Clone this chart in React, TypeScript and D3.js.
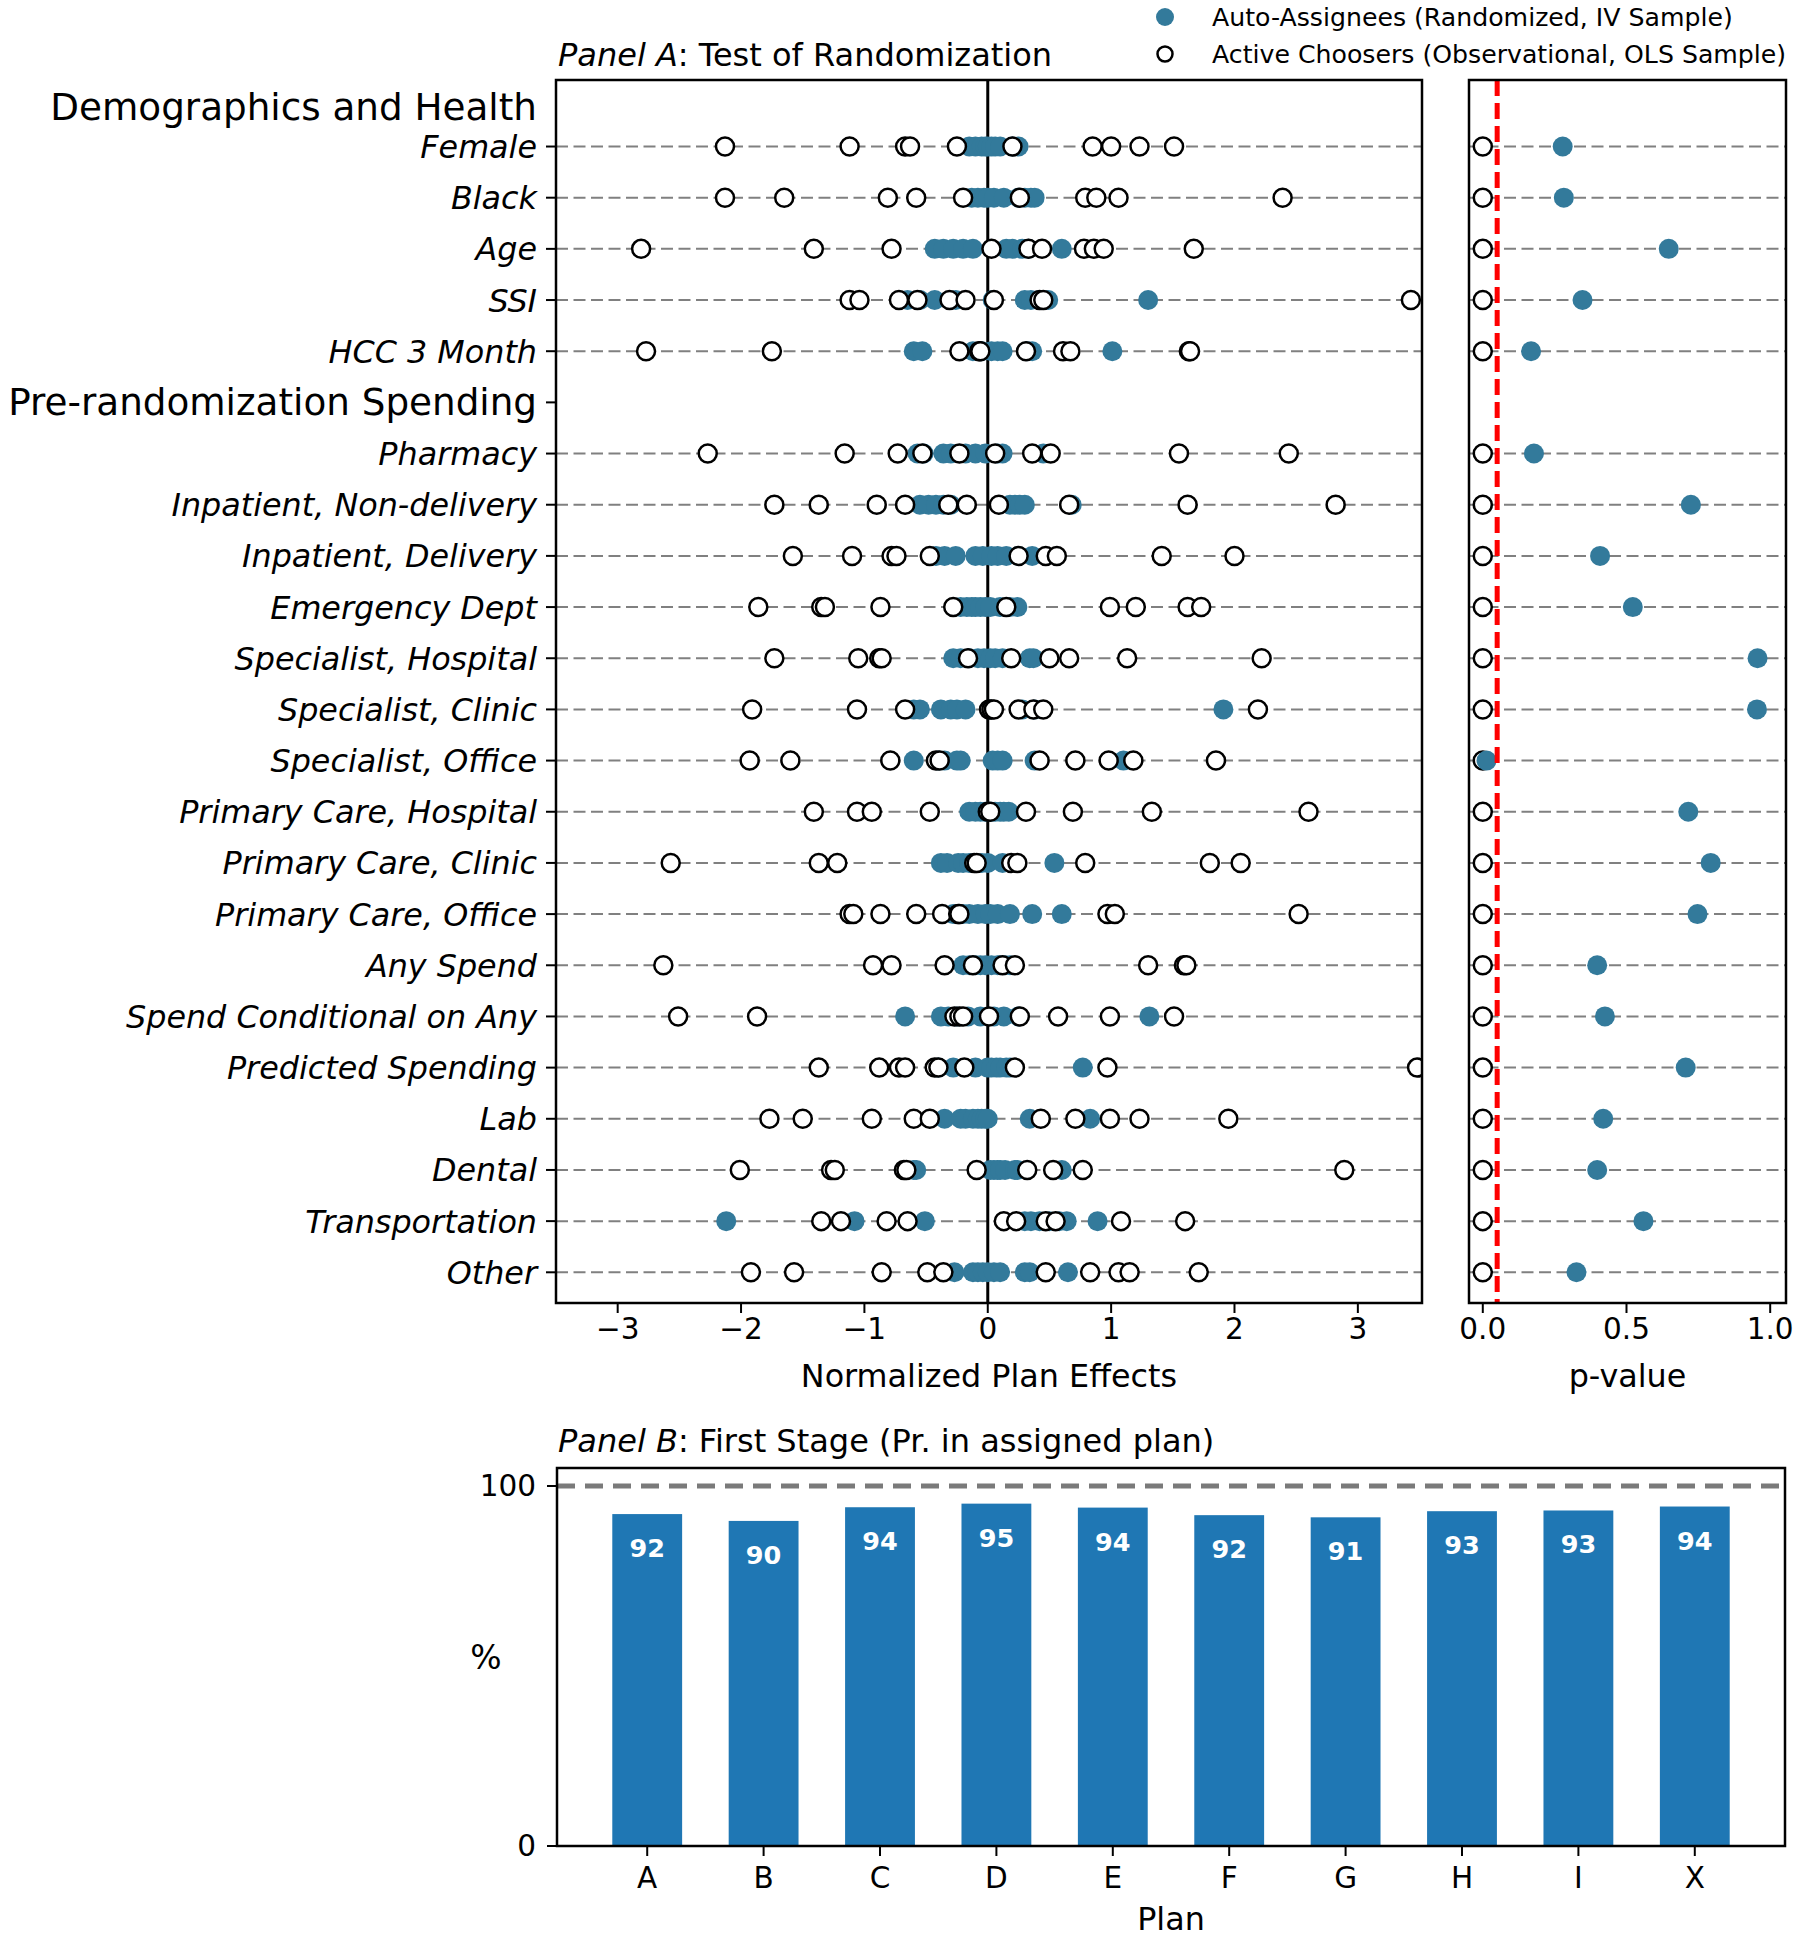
import React from 'react';
import * as d3 from 'd3';

// covariates, in plot order (the spending header sits between HCC and Pharmacy)
const demoVars = ['Female', 'Black', 'Age', 'SSI', 'HCC 3 Month'];
const spendVars = ['Pharmacy', 'Inpatient, Non-delivery', 'Inpatient, Delivery', 'Emergency Dept',
	'Specialist, Hospital', 'Specialist, Clinic', 'Specialist, Office', 'Primary Care, Hospital',
	'Primary Care, Clinic', 'Primary Care, Office', 'Any Spend', 'Spend Conditional on Any',
	'Predicted Spending', 'Lab', 'Dental', 'Transportation', 'Other'];
const variables = [...demoVars, ...spendVars];

// normalized plan effects (one per plan) - auto-assignees
const autoEffects = [
	[-0.15, -0.1, -0.05, -0.02, 0.0, 0.03, 0.06, 0.1, 0.2, 0.25],
	[-0.13, -0.08, -0.03, 0.0, 0.05, 0.13, 0.25, 0.3, 0.35, 0.38],
	[-0.43, -0.36, -0.28, -0.2, -0.12, 0.15, 0.2, 0.28, 0.33, 0.6],
	[-0.65, -0.55, -0.43, -0.26, 0.04, 0.3, 0.35, 0.42, 0.49, 1.3],
	[-0.6, -0.53, -0.12, -0.05, 0.03, 0.08, 0.12, 0.32, 0.36, 1.01],
	[-0.57, -0.52, -0.36, -0.3, -0.18, -0.1, -0.02, 0.08, 0.12, 0.45],
	[-0.55, -0.48, -0.42, -0.36, -0.3, 0.18, 0.22, 0.26, 0.3, 0.68],
	[-0.42, -0.35, -0.26, -0.1, -0.04, 0.03, 0.08, 0.15, 0.25, 0.36],
	[-0.22, -0.17, -0.13, -0.1, -0.06, -0.02, 0.02, 0.1, 0.18, 0.24],
	[-0.28, -0.22, -0.15, -0.08, -0.03, 0.02, 0.06, 0.12, 0.34, 0.37],
	[-0.6, -0.55, -0.38, -0.3, -0.25, -0.18, 0.02, 0.28, 0.38, 1.91],
	[-0.6, -0.4, -0.35, -0.25, -0.22, 0.04, 0.08, 0.12, 0.38, 1.1],
	[-0.15, -0.1, -0.06, -0.02, 0.0, 0.03, 0.06, 0.1, 0.13, 0.17],
	[-0.38, -0.33, -0.24, -0.2, -0.15, -0.1, -0.05, 0.0, 0.12, 0.54],
	[-0.28, -0.2, -0.15, -0.08, -0.02, 0.02, 0.08, 0.18, 0.36, 0.6],
	[-0.2, -0.15, -0.1, -0.06, -0.02, 0.03, 0.08, 0.1, 0.14, 0.18],
	[-0.67, -0.38, -0.32, -0.25, -0.16, -0.06, 0.05, 0.13, 0.25, 1.31],
	[-0.4, -0.28, -0.1, 0.0, 0.03, 0.07, 0.1, 0.15, 0.18, 0.77],
	[-0.35, -0.22, -0.18, -0.12, -0.08, -0.05, -0.02, 0.0, 0.34, 0.83],
	[-0.6, -0.58, 0.02, 0.05, 0.08, 0.1, 0.14, 0.22, 0.24, 0.6],
	[-2.12, -1.08, -0.51, 0.3, 0.35, 0.42, 0.5, 0.58, 0.64, 0.89],
	[-0.27, -0.12, -0.08, -0.04, 0.0, 0.05, 0.1, 0.3, 0.34, 0.65],
];

// active choosers
const chooserEffects = [
	[-2.13, -1.12, -0.67, -0.63, -0.25, 0.2, 0.85, 1.0, 1.23, 1.51],
	[-2.13, -1.65, -0.81, -0.58, -0.2, 0.26, 0.79, 0.88, 1.06, 2.39],
	[-2.81, -1.41, -0.78, 0.03, 0.33, 0.44, 0.78, 0.86, 0.94, 1.67],
	[-1.12, -1.04, -0.72, -0.57, -0.31, -0.18, 0.05, 0.42, 0.45, 3.43],
	[-2.77, -1.75, -0.23, -0.07, -0.06, 0.31, 0.61, 0.67, 1.63, 1.64],
	[-2.27, -1.16, -0.73, -0.53, -0.23, 0.06, 0.36, 0.51, 1.55, 2.44],
	[-1.73, -1.37, -0.9, -0.67, -0.32, -0.17, 0.09, 0.66, 1.62, 2.82],
	[-1.58, -1.1, -0.78, -0.74, -0.47, 0.25, 0.47, 0.56, 1.41, 2.0],
	[-1.86, -1.35, -1.32, -0.87, -0.28, 0.15, 0.99, 1.2, 1.62, 1.73],
	[-1.73, -1.05, -0.88, -0.86, -0.16, 0.19, 0.5, 0.66, 1.13, 2.22],
	[-1.91, -1.06, -0.67, 0.01, 0.03, 0.05, 0.25, 0.37, 0.45, 2.19],
	[-1.93, -1.6, -0.79, -0.42, -0.39, 0.42, 0.71, 0.98, 1.18, 1.85],
	[-1.41, -1.06, -0.94, -0.47, 0.0, 0.02, 0.31, 0.69, 1.33, 2.6],
	[-2.57, -1.37, -1.22, -0.11, -0.09, 0.19, 0.24, 0.79, 1.8, 2.05],
	[-1.12, -1.09, -0.87, -0.58, -0.37, -0.24, -0.23, 0.97, 1.03, 2.52],
	[-2.63, -0.93, -0.78, -0.35, -0.12, 0.12, 0.22, 1.3, 1.59, 1.61],
	[-2.51, -1.87, -0.27, -0.23, -0.2, 0.01, 0.26, 0.57, 0.99, 1.51],
	[-1.37, -0.88, -0.72, -0.67, -0.43, -0.4, -0.19, 0.22, 0.97, 3.48],
	[-1.77, -1.5, -0.94, -0.6, -0.47, 0.43, 0.71, 0.99, 1.23, 1.95],
	[-2.01, -1.27, -1.24, -0.68, -0.66, -0.09, 0.32, 0.53, 0.77, 2.89],
	[-1.35, -1.19, -0.82, -0.65, 0.13, 0.23, 0.47, 0.55, 1.08, 1.6],
	[-1.92, -1.57, -0.86, -0.49, -0.36, 0.47, 0.83, 1.06, 1.15, 1.71],
];

// joint test p-values
const autoPValues = [0.278, 0.282, 0.647, 0.347, 0.168, 0.178, 0.724, 0.408, 0.522, 0.956, 0.954,
	0.013, 0.715, 0.793, 0.747, 0.398, 0.425, 0.706, 0.419, 0.398, 0.559, 0.326];
const chooserPValues = [0, 0, 0, 0, 0, 0, 0, 0, 0, 0, 0, 0, 0, 0, 0, 0, 0, 0, 0, 0, 0, 0];

const effectTicks = [-3, -2, -1, 0, 1, 2, 3];
const pTicks = [0, 0.5, 1.0];

// panel B
const plans = ['A', 'B', 'C', 'D', 'E', 'F', 'G', 'H', 'I', 'X'];
const firstStage = [92.2, 90.3, 94.1, 95.1, 94.0, 91.9, 91.3, 93.0, 93.2, 94.3];
const pctTicks = [0, 100];

const BLUE = '#337a9b';
const FONT = 'DejaVu Sans';

export default function App() {
	const xEff = d3.scaleLinear().domain([-3.5, 3.52]).range([556, 1422]);
	const xP = d3.scaleLinear().domain([-0.048, 1.055]).range([1469, 1786]);
	const yRow = d3.scaleLinear().domain([-1.3, 22.6]).range([80, 1303]);
	const xPlan = d3.scaleLinear().domain([-0.775, 9.775]).range([557, 1785]);
	const yPct = d3.scaleLinear().domain([0, 105]).range([1846, 1468]);

	// row position: header row "Pre-randomization Spending" takes slot 5
	const rowOf = (i: number) => (i < demoVars.length ? i : i + 1);
	const headerRow = demoVars.length;

	const [eL, eR] = xEff.range();
	const [pL, pR] = xP.range();
	const [top, bottom] = yRow.range();
	const barW = xPlan(0.6) - xPlan(0);

	return (
		<svg width={1800} height={1937} style={{ position: 'absolute', left: 0, top: 0, background: '#fff' }}
			fontFamily={FONT}>
			<defs>
				<clipPath id="clipEff"><rect x={eL} y={top} width={eR - eL} height={bottom - top} /></clipPath>
				<clipPath id="clipP"><rect x={pL} y={top} width={pR - pL} height={bottom - top} /></clipPath>
			</defs>

			{/* legend */}
			<circle cx={1165} cy={17} r={9} fill={BLUE} />
			<text x={1212} y={17} fontSize={25.2} dominantBaseline="central">Auto-Assignees (Randomized, IV Sample)</text>
			<circle cx={1165} cy={54} r={7.5} fill="#fff" stroke="#000" strokeWidth={2.5} />
			<text x={1212} y={54} fontSize={25.2} dominantBaseline="central">Active Choosers (Observational, OLS Sample)</text>

			{/* Panel A title */}
			<text x={558} y={66} fontSize={32}>
				<tspan fontStyle="italic">Panel A</tspan>: Test of Randomization
			</text>

			{/* effects panel */}
			<g clipPath="url(#clipEff)">
				{variables.map((v, i) => (
					<line key={v} x1={eL} x2={eR} y1={yRow(rowOf(i))} y2={yRow(rowOf(i))}
						stroke="#808080" strokeWidth={2} strokeDasharray="12,5.5" />
				))}
				<line x1={xEff(0)} x2={xEff(0)} y1={top} y2={bottom} stroke="#000" strokeWidth={3} />
				{autoEffects.map((vals, i) => vals.map((v, j) => (
					<circle key={`a${i}-${j}`} cx={xEff(v)} cy={yRow(rowOf(i))} r={10} fill={BLUE} />
				)))}
				{chooserEffects.map((vals, i) => vals.map((v, j) => (
					<circle key={`c${i}-${j}`} cx={xEff(v)} cy={yRow(rowOf(i))} r={9} fill="#fff" stroke="#000" strokeWidth={2.5} />
				)))}
			</g>
			<rect x={eL} y={top} width={eR - eL} height={bottom - top} fill="none" stroke="#000" strokeWidth={2.5} />

			{/* y labels */}
			<text x={537} y={yRow(-0.78)} fontSize={37.3} textAnchor="end" dominantBaseline="central">Demographics and Health</text>
			<line x1={eL - 10} x2={eL} y1={yRow(headerRow)} y2={yRow(headerRow)} stroke="#000" strokeWidth={2} />
			<text x={537} y={yRow(headerRow)} fontSize={37.3} textAnchor="end" dominantBaseline="central">Pre-randomization Spending</text>
			{variables.map((v, i) => (
				<g key={v}>
					<line x1={eL - 10} x2={eL} y1={yRow(rowOf(i))} y2={yRow(rowOf(i))} stroke="#000" strokeWidth={2} />
					<text x={537} y={yRow(rowOf(i))} fontSize={31.8} fontStyle="italic" textAnchor="end" dominantBaseline="central">{v}</text>
				</g>
			))}

			{/* x axis effects */}
			{effectTicks.map(t => (
				<g key={t}>
					<line x1={xEff(t)} x2={xEff(t)} y1={bottom} y2={bottom + 10} stroke="#000" strokeWidth={2} />
					<text x={xEff(t)} y={bottom + 26} fontSize={29.5} textAnchor="middle" dominantBaseline="central">
						{t < 0 ? `\u2212${-t}` : t}
					</text>
				</g>
			))}
			<text x={(eL + eR) / 2} y={1375} fontSize={31.8} textAnchor="middle" dominantBaseline="central">Normalized Plan Effects</text>

			{/* p-value panel */}
			<g clipPath="url(#clipP)">
				{variables.map((v, i) => (
					<line key={v} x1={pL} x2={pR} y1={yRow(rowOf(i))} y2={yRow(rowOf(i))}
						stroke="#808080" strokeWidth={2} strokeDasharray="12,5.5" />
				))}
				{chooserPValues.map((p, i) => (
					<circle key={`cp${i}`} cx={xP(p)} cy={yRow(rowOf(i))} r={9} fill="#fff" stroke="#000" strokeWidth={2.5} />
				))}
				{autoPValues.map((p, i) => (
					<circle key={`ap${i}`} cx={xP(p)} cy={yRow(rowOf(i))} r={10} fill={BLUE} />
				))}
				<line x1={xP(0.05)} x2={xP(0.05)} y1={top} y2={bottom} stroke="#ff0000" strokeWidth={5} strokeDasharray="16,7" />
			</g>
			<rect x={pL} y={top} width={pR - pL} height={bottom - top} fill="none" stroke="#000" strokeWidth={2.5} />
			{pTicks.map(t => (
				<g key={t}>
					<line x1={xP(t)} x2={xP(t)} y1={bottom} y2={bottom + 10} stroke="#000" strokeWidth={2} />
					<text x={xP(t)} y={bottom + 26} fontSize={29.5} textAnchor="middle" dominantBaseline="central">{t.toFixed(1)}</text>
				</g>
			))}
			<text x={(pL + pR) / 2} y={1375} fontSize={31.8} textAnchor="middle" dominantBaseline="central">p-value</text>

			{/* Panel B */}
			<text x={558} y={1452} fontSize={32}>
				<tspan fontStyle="italic">Panel B</tspan>: First Stage (Pr. in assigned plan)
			</text>
			{firstStage.map((v, i) => (
				<g key={plans[i]}>
					<rect x={xPlan(i) - barW / 2} y={yPct(v)} width={barW} height={yPct(0) - yPct(v)} fill="#1f77b4" />
					<text x={xPlan(i)} y={yPct(v) + 34} fontSize={25.5} fontWeight="bold" fill="#fff"
						textAnchor="middle" dominantBaseline="central">{Math.round(v)}</text>
				</g>
			))}
			<line x1={xPlan.range()[0]} x2={xPlan.range()[1]} y1={yPct(100)} y2={yPct(100)}
				stroke="#7a7a7a" strokeWidth={5} strokeDasharray="18,10" />
			<rect x={xPlan.range()[0]} y={yPct.range()[1]} width={xPlan.range()[1] - xPlan.range()[0]}
				height={yPct.range()[0] - yPct.range()[1]} fill="none" stroke="#000" strokeWidth={2.5} />
			{pctTicks.map(t => (
				<g key={t}>
					<line x1={xPlan.range()[0] - 10} x2={xPlan.range()[0]} y1={yPct(t)} y2={yPct(t)} stroke="#000" strokeWidth={2} />
					<text x={536} y={yPct(t)} fontSize={29.5} textAnchor="end" dominantBaseline="central">{t}</text>
				</g>
			))}
			<text x={486} y={(yPct.range()[0] + yPct.range()[1]) / 2} fontSize={33} textAnchor="middle" dominantBaseline="central">%</text>
			{plans.map((p, i) => (
				<g key={p}>
					<line x1={xPlan(i)} x2={xPlan(i)} y1={yPct(0)} y2={yPct(0) + 10} stroke="#000" strokeWidth={2} />
					<text x={xPlan(i)} y={1878} fontSize={29.5} textAnchor="middle" dominantBaseline="central">{p}</text>
				</g>
			))}
			<text x={(xPlan.range()[0] + xPlan.range()[1]) / 2} y={1918} fontSize={31.8} textAnchor="middle" dominantBaseline="central">Plan</text>
		</svg>
	);
}
